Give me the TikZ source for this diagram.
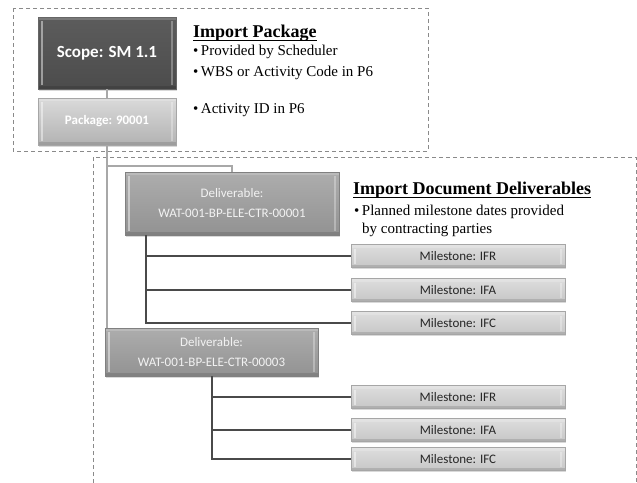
\documentclass[tikz,border=0pt]{standalone}
\usepackage{fontspec}
\setmainfont{Liberation Serif}
\newfontfamily\boxfont{Carlito}
\usetikzlibrary{shadows,calc}
\definecolor{scopetop}{HTML}{5C5C5C}
\definecolor{scopebot}{HTML}{4C4C4C}
\definecolor{pkgtop}{HTML}{DADADA}
\definecolor{pkgbot}{HTML}{B2B2B2}
\definecolor{deltop}{HTML}{ADADAD}
\definecolor{delbot}{HTML}{929292}
\definecolor{mstop}{HTML}{DEDEDE}
\definecolor{msbot}{HTML}{C6C6C6}
\definecolor{litec}{HTML}{A8A8A8}
\definecolor{darkc}{HTML}{4A4A4A}
\definecolor{dashc}{HTML}{8A8A8A}
\definecolor{mstext}{HTML}{262626}
\begin{document}
\begin{tikzpicture}[x=1pt,y=-1pt,
  bevel/.style={path picture={
    \path (path picture bounding box.south west) coordinate (bsw)
          (path picture bounding box.north east) coordinate (bne);
    \fill[white,opacity=.45] ($(bsw)+(3pt,4pt)$) rectangle ($(bsw|-bne)+(5pt,-4pt)$);
    \fill[white,opacity=.30] ($(bne|-bsw)+(-5pt,4pt)$) rectangle ($(bne)+(-3pt,-4pt)$);
    \fill[white,opacity=.18] ($(bsw|-bne)+(0pt,0pt)$) rectangle ($(bne)+(0pt,-3pt)$);
    \fill[black,opacity=.12] (bsw) rectangle ($(bne|-bsw)+(0pt,3pt)$);
  }},
  box/.style={draw=#1, line width=.4pt, inner sep=0pt, align=center,
    drop shadow={opacity=.3,shadow xshift=1.2pt,shadow yshift=-1.6pt}, bevel},
  boxtext/.style={font=\boxfont\fontsize{13}{20}\selectfont},
  head/.style={anchor=base west, inner sep=0pt, font=\fontsize{18}{20}\selectfont\bfseries},
  bul/.style={anchor=base west, inner sep=0pt, font=\fontsize{15}{18}\selectfont},
  ul/.style={line width=.7pt},
  lite/.style={draw=litec, line width=1.6pt},
  dark/.style={draw=darkc, line width=2pt},
  dbox/.style={draw=dashc, line width=.8pt, dash pattern=on 4pt off 3pt},
]
\useasboundingbox (0,0) rectangle (637,482);

% dashed frames
\draw[dbox] (13,8) rectangle (428,151);
\draw[dbox] (93,490) -- (93,157) -- (636,157) -- (636,490);

% boxes
\node[box=black!60, top color=scopetop, bottom color=scopebot, text=white,
      minimum width=138pt, minimum height=72pt,
      font=\boxfont\fontsize{17}{20}\selectfont\bfseries] (scope) at (107,53) {Scope: SM 1.1};
\node[box=black!35, top color=pkgtop, bottom color=pkgbot, text=white,
      minimum width=138pt, minimum height=47pt,
      font=\boxfont\fontsize{13}{20}\selectfont\bfseries] (pkg) at (107,121.5) {Package: 90001};

\node[box=black!50, top color=deltop, bottom color=delbot, text=white!95!black, boxtext,
      minimum width=214pt, minimum height=63pt] (d1) at (232,203.5) {Deliverable:\\WAT-001-BP-ELE-CTR-00001};
\node[box=black!50, top color=deltop, bottom color=delbot, text=white!95!black, boxtext,
      minimum width=213pt, minimum height=48pt] (d2) at (211.5,352) {Deliverable:\\WAT-001-BP-ELE-CTR-00003};

\foreach \n/\yy/\t in {m1a/256/IFR, m1b/290/IFA, m1c/323/IFC, m2a/397/IFR, m2b/430/IFA, m2c/459/IFC}{
  \node[box=black!35, top color=mstop, bottom color=msbot, text=mstext, boxtext,
        minimum width=214pt, minimum height=23pt] (\n) at (458,\yy) {Milestone: \t};
}

% connectors
\draw[lite] (scope.south) -- (pkg.north);
\draw[lite] (pkg.south) -- (pkg.south |- d2.north);
\draw[lite] (d1.north) -- ++(0,-6) -| (pkg.south);
\foreach \m in {m1a,m1b,m1c}{
  \draw[dark] ([xshift=21pt]d1.south west) |- (\m.west);
}
\foreach \m in {m2a,m2b,m2c}{
  \draw[dark] (d2.south) |- (\m.west);
}

% texts
\node[head] (h1) at (193,37) {Import Package};
\draw[ul] ([yshift=-3.5pt]h1.base west) -- ([yshift=-3.5pt]h1.base east);
\node[bul] (b1) at (193,55) {•\,Provided by Scheduler};
\node[bul] (b2) at (193,76) {•\,WBS or Activity Code in P6};
\node[bul] (b3) at (193,113) {•\,Activity ID in P6};

\node[head] (h2) at (353,194) {Import Document Deliverables};
\draw[ul] ([yshift=-3.5pt]h2.base west) -- ([yshift=-3.5pt]h2.base east);
\node[bul] (b4) at (354,215) {•\,Planned milestone dates provided};
\node[bul] (b5) at (362,233) {by contracting parties};
\end{tikzpicture}
\end{document}
